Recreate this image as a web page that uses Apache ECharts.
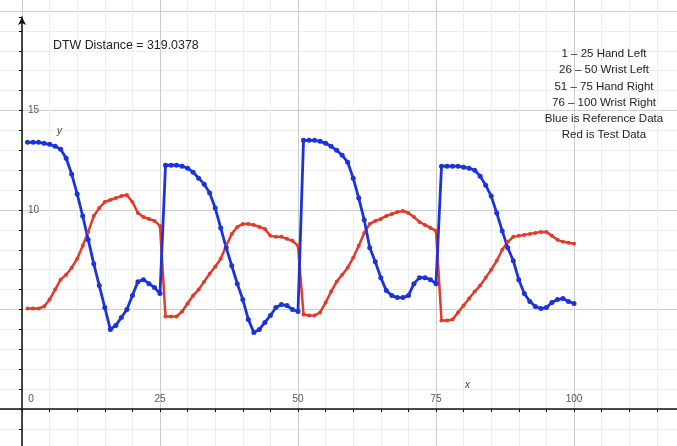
<!DOCTYPE html>
<html>
<head>
<meta charset="utf-8">
<script src="https://cdn.jsdelivr.net/npm/echarts@6/dist/echarts.min.js"></script>
<style>
  html, body { margin: 0; padding: 0; background: #fff; }
  #main { width: 677px; height: 446px; }
</style>
</head>
<body>
<div id="main"></div>
<script>
// samples 1-25 hand left, 26-50 wrist left, 51-75 hand right, 76-100 wrist right
var referenceData = [
    13.4, 13.4, 13.4, 13.35, 13.3, 13.2, 13.05, 12.6, 11.8, 10.8, 9.7, 8.5, 7.3, 6.2, 5.1, 4.0, 4.2, 4.6, 5.0, 5.7, 6.4, 6.5, 6.3, 6.1, 5.8,
    12.25, 12.25, 12.25, 12.2, 12.1, 11.9, 11.6, 11.3, 10.85, 10.1, 9.1, 8.1, 7.2, 6.3, 5.5, 4.5, 3.85, 4.0, 4.35, 4.7, 5.1, 5.25, 5.2, 5.0, 4.9,
    13.5, 13.5, 13.5, 13.45, 13.35, 13.2, 13.0, 12.75, 12.4, 11.6, 10.6, 9.5, 8.1, 7.4, 6.6, 5.95, 5.7, 5.6, 5.6, 5.7, 6.3, 6.6, 6.6, 6.5, 6.3,
    12.2, 12.2, 12.2, 12.2, 12.15, 12.1, 12.0, 11.7, 11.25, 10.7, 9.85, 8.95, 8.1, 7.45, 6.5, 5.8, 5.4, 5.15, 5.05, 5.1, 5.35, 5.5, 5.55, 5.4, 5.3
];
var testData = [
    5.05, 5.05, 5.05, 5.15, 5.5, 6.0, 6.5, 6.75, 7.1, 7.55, 8.2, 8.9, 9.7, 10.1, 10.4, 10.5, 10.6, 10.7, 10.75, 10.4, 9.85, 9.65, 9.55, 9.45, 9.2,
    4.65, 4.65, 4.65, 4.9, 5.3, 5.7, 6.0, 6.4, 6.8, 7.15, 7.55, 8.2, 8.8, 9.15, 9.3, 9.3, 9.25, 9.15, 9.05, 8.7, 8.65, 8.65, 8.55, 8.45, 8.2,
    4.75, 4.7, 4.7, 4.85, 5.35, 5.9, 6.4, 6.75, 7.1, 7.6, 8.2, 8.85, 9.3, 9.45, 9.55, 9.7, 9.8, 9.9, 9.95, 9.85, 9.65, 9.4, 9.25, 9.1, 8.95,
    4.45, 4.45, 4.5, 4.85, 5.2, 5.55, 5.9, 6.2, 6.6, 7.0, 7.45, 8.0, 8.4, 8.65, 8.7, 8.75, 8.8, 8.85, 8.9, 8.9, 8.7, 8.5, 8.4, 8.35, 8.3
];
var xTickLabels = [0, 25, 50, 75, 100];
var yTickLabels = [10, 15];
var distanceText = 'DTW Distance = 319.0378';
var noteLines = [
    '1 \u2013 25 Hand Left',
    '26 \u2013 50 Wrist Left',
    '51 \u2013 75 Hand Right',
    '76 \u2013 100 Wrist Right',
    'Blue is Reference Data',
    'Red is Test Data'
];

initChart();

function toPoints(arr) {
    return arr.map(function (v, i) { return [i + 1, v]; });
}

function initChart() {
    var myChart = echarts.init(document.getElementById('main'));
    var minor = '#ededed', major = '#cccccc';
    var font = '"Liberation Sans", Arial, sans-serif';

    myChart.setOption({
        animation: false,
        backgroundColor: '#fff',
        grid: [
            // 0: data, grid lines, x axis line
            { left: -5.6, right: -7.4, top: -8.9, bottom: -2.8, outerBoundsMode: 'none', containLabel: false },
            // 1: y axis line with arrow
            { left: -5.6, right: -7.4, top: 17, bottom: -2.8, outerBoundsMode: 'none', containLabel: false },
            // 2: tick labels, its corner sits on the origin
            { left: 22, right: -7.4, top: -8.9, bottom: 37, outerBoundsMode: 'none', containLabel: false }
        ],
        xAxis: [
            {
                type: 'value', gridIndex: 0, min: -5, max: 120, interval: 5,
                axisLine: { onZero: true, lineStyle: { color: '#111', width: 1.5 } },
                axisTick: { show: true, length: 3, lineStyle: { color: '#111' } },
                axisLabel: { show: false },
                splitLine: { show: true, lineStyle: { color: [minor, major, minor, minor, minor], width: 1 } }
            },
            { type: 'value', gridIndex: 1, min: -5, max: 120, show: false },
            {
                type: 'value', gridIndex: 2, min: 0, max: 120, interval: 5,
                axisLine: { show: false, onZero: false },
                axisTick: { show: false },
                splitLine: { show: false },
                axisLabel: {
                    inside: true, margin: 5, fontSize: 10, color: '#555', fontFamily: font,
                    showMinLabel: true, showMaxLabel: true,
                    formatter: function (v) {
                        if (v === 0) return '{z|0}';
                        return xTickLabels.indexOf(v) >= 0 ? String(v) : '';
                    },
                    rich: { z: { padding: [0, 0, 0, 18], fontSize: 10, color: '#555' } }
                }
            }
        ],
        yAxis: [
            {
                type: 'value', gridIndex: 0, min: -2, max: 21, interval: 1,
                axisLine: { show: false },
                axisTick: { show: false },
                axisLabel: { show: false },
                splitLine: { show: true, lineStyle: { color: [minor, minor, major, minor, minor], width: 1 } }
            },
            {
                type: 'value', gridIndex: 1, min: -2, max: 19.7, interval: 1,
                axisLine: {
                    show: true, onZero: true,
                    symbol: ['none', 'arrow'], symbolSize: [6, 8],
                    lineStyle: { color: '#111', width: 1.5 }
                },
                axisTick: { show: true, length: 3, lineStyle: { color: '#111' } },
                axisLabel: { show: false },
                splitLine: { show: false }
            },
            {
                type: 'value', gridIndex: 2, min: 0, max: 21, interval: 1,
                axisLine: { show: false, onZero: false },
                axisTick: { show: false },
                splitLine: { show: false },
                axisLabel: {
                    inside: true, margin: 6, fontSize: 10, color: '#555', fontFamily: font,
                    formatter: function (v) { return yTickLabels.indexOf(v) >= 0 ? String(v) : ''; }
                }
            }
        ],
        graphic: [
            { type: 'text', z: 100, x: 53, y: 46, style: { text: distanceText, font: '12.4px ' + font, fill: '#222', verticalAlign: 'middle' } },
            { type: 'text', z: 100, x: 604, y: 46, style: { text: noteLines.join('\n'), font: '11.5px ' + font, fill: '#222', align: 'center', verticalAlign: 'top', lineHeight: 16.2 } },
            { type: 'text', z: 100, x: 465, y: 380, style: { text: 'x', font: 'italic 10px ' + font, fill: '#444' } },
            { type: 'text', z: 100, x: 57, y: 126, style: { text: 'y', font: 'italic 10px ' + font, fill: '#444' } }
        ],
        series: [
            {
                name: 'Test', type: 'line', xAxisIndex: 0, yAxisIndex: 0,
                data: toPoints(testData),
                symbol: 'circle', symbolSize: 4, showSymbol: true,
                lineStyle: { color: '#e23b2b', width: 2.5 },
                itemStyle: { color: '#e23b2b' }
            },
            {
                name: 'Reference', type: 'line', xAxisIndex: 0, yAxisIndex: 0,
                data: toPoints(referenceData),
                symbol: 'circle', symbolSize: 5, showSymbol: true,
                lineStyle: { color: '#1c33d8', width: 2.8 },
                itemStyle: { color: '#1c33d8' }
            }
        ]
    });
}
</script>
</body>
</html>
